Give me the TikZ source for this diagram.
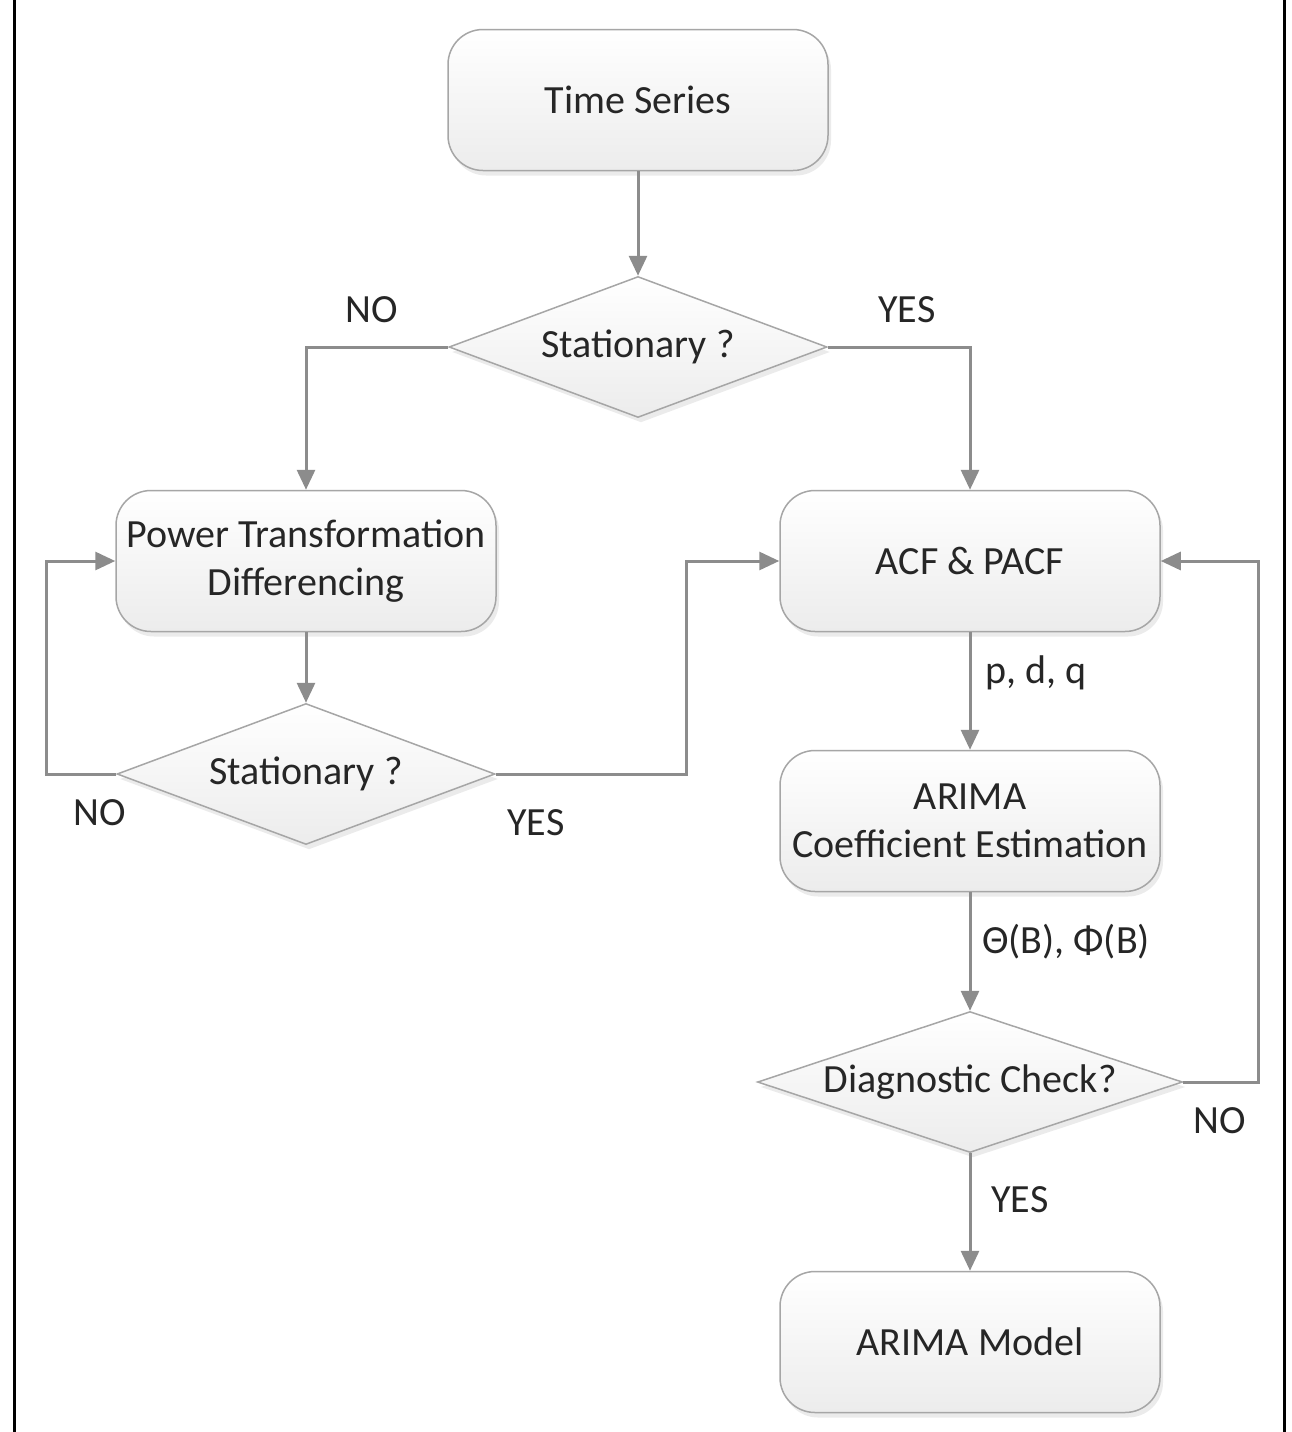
\documentclass[tikz,border=0pt]{standalone}
\usepackage{fontspec}
\setmainfont{Carlito}
\usetikzlibrary{shapes.geometric,arrows.meta,shadows}
\definecolor{boxgray}{HTML}{A6A6A6}
\definecolor{lngray}{HTML}{8C8C8C}
\definecolor{fillgray}{HTML}{ECECEC}
\definecolor{txt}{HTML}{262626}
\newcommand\mysz{\fontsize{40}{48}\selectfont}
\begin{document}
\begin{tikzpicture}[x=1pt,y=-1pt,
  box/.style={draw=boxgray, line width=1.5pt, rounded corners=35pt,
    minimum width=380pt, minimum height=141pt, inner sep=2pt,
    top color=white, bottom color=fillgray,
    drop shadow={shadow xshift=3pt, shadow yshift=-5pt, opacity=0.08, fill=black},
    align=center, font=\mysz, text=txt},
  dec/.style={diamond, draw=boxgray, line width=1.5pt, inner sep=0pt,
    minimum width=378pt, minimum height=141pt, aspect=2.68,
    top color=white, bottom color=fillgray,
    drop shadow={shadow xshift=3pt, shadow yshift=-5pt, opacity=0.08, fill=black},
    font=\mysz, text=txt},
  conn/.style={draw=lngray, line width=3pt, -{Triangle[length=20pt,width=18pt]}},
  lab/.style={font=\mysz, text=txt, inner sep=0pt}]
\useasboundingbox (0,0) rectangle (1292,1432);
\fill[white] (0,0) rectangle (1292,1432);
\draw[line width=3pt] (14,0) -- (14,1432);
\draw[line width=3pt] (1284,0) -- (1284,1432);

\node[box] (ts) at (638,100) {Time Series};
\node[dec] (st1) at (638,347) {Stationary ?};
\node[box] (pt) at (306,561) {Power Transformation\\Differencing};
\node[box] (acf) at (970,561) {ACF \& PACF};
\node[dec] (st2) at (306,774) {Stationary ?};
\node[box] (coef) at (970,821) {ARIMA\\Coefficient Estimation};
\node[dec, minimum width=425pt, aspect=3.0] (diag) at (970,1082) {Diagnostic Check?};
\node[box] (model) at (970,1342) {ARIMA Model};

\draw[conn] (ts) -- (st1);
\draw[conn] (st1.west) -| (pt.north);
\draw[conn] (st1.east) -| (acf.north);
\draw[conn] (pt) -- (st2);
\draw[conn] (st2.west) -- (46,774) |- (pt.west);
\draw[conn] (st2.east) -- (686,774) |- (acf.west);
\draw[conn] (acf) -- (coef);
\draw[conn] (coef) -- (diag);
\draw[conn] (diag.east) -- (1258,1082) |- (acf.east);
\draw[conn] (diag) -- (model);

\node[lab] (l1) at (372,310) {NO};
\node[lab] (l2) at (907,310) {YES};
\node[lab] (l3) at (100,813) {NO};
\node[lab] (l4) at (536,823) {YES};
\node[lab] (l5) at (1036,673) {p, d, q};
\node[lab] (l6) at (1066,942) {Θ(B), Φ(B)};
\node[lab] (l7) at (1220,1121) {NO};
\node[lab] (l8) at (1020,1200) {YES};
\end{tikzpicture}
\end{document}
